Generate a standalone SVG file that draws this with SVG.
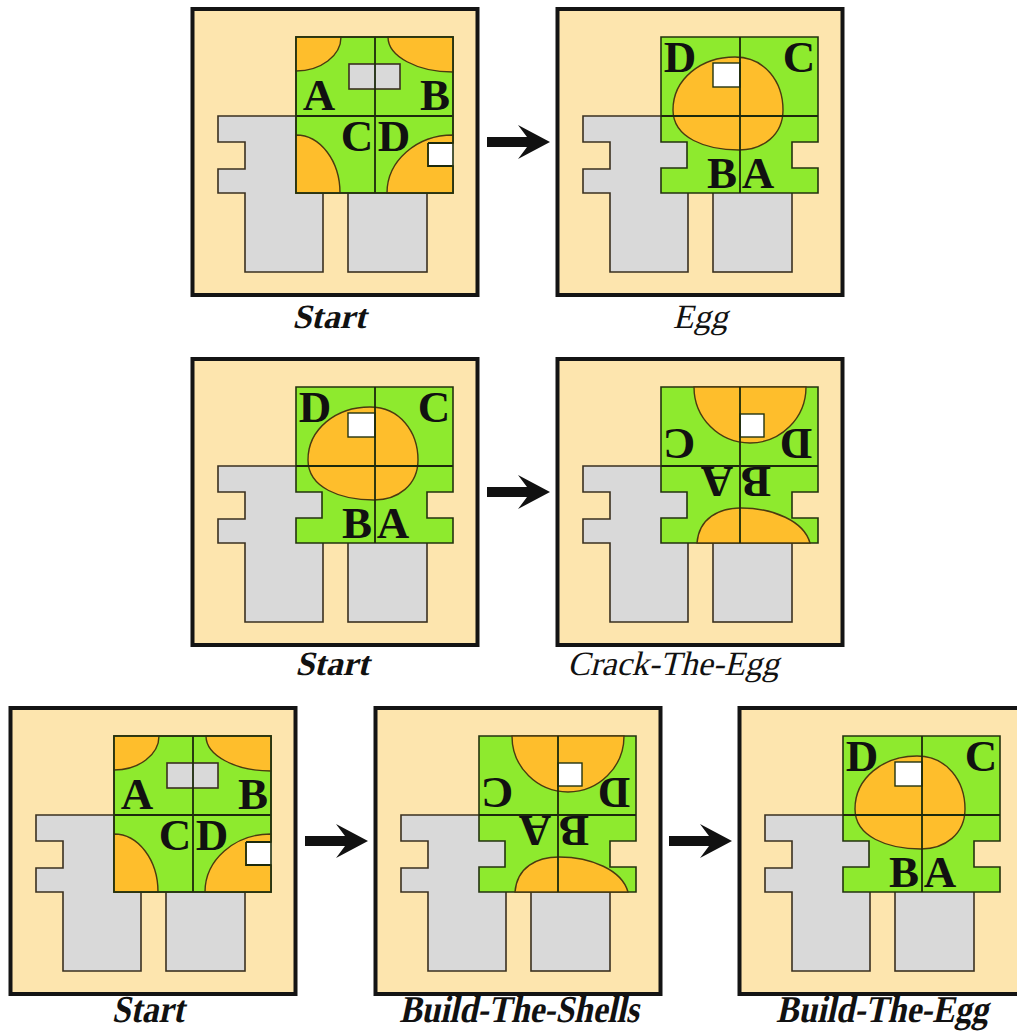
<svg xmlns="http://www.w3.org/2000/svg" xmlns:xlink="http://www.w3.org/1999/xlink" width="1017" height="1032" viewBox="0 0 1017 1032">
  <style>
    .frame { fill: #FDE5AE; stroke: #141414; stroke-width: 4; }
    .gray { fill: #D9D9D9; stroke: #3a3020; stroke-width: 1.6; stroke-linejoin: miter; }
    .green { fill: #8EEA2E; stroke: #23330f; stroke-width: 1.6; }
    .orange { fill: #FEBE2C; stroke: #4a3a10; stroke-width: 1.4; }
    .hole { fill: #FFFFFF; stroke: #23330f; stroke-width: 1.4; }
    .div { fill: none; stroke: #1c2a0c; stroke-width: 1.8; }
    .tile { font-family: "Liberation Serif", "Times New Roman", serif; font-weight: bold; font-size: 45px; fill: #111; text-anchor: middle; }
    .cap { font-family: "Liberation Serif", "Times New Roman", serif; font-size: 34px; fill: #111; text-anchor: middle; }
    .capb { font-weight: bold; }
    .cap3 { font-size: 38px; }
    .arrow { fill: #111; }
  </style>
  <defs>
    <!-- board: framed tray with the two grey blocks; origin = top-left of the 157x156 tile square -->
    <g id="board">
      <rect class="frame" x="-103.5" y="-28" width="285" height="286"/>
      <path class="gray" d="M-78,79 V105 H-51 V132 H-78 V156 H-51 V235 H27 V79 Z"/>
      <rect class="gray" x="52" y="140" width="79" height="95"/>
    </g>

    <!-- four tiles, start arrangement: quarter shells in the corners -->
    <g id="tiles-start">
      <path class="green" d="M0,0 H157 V106 H132 V129 H157 V156 H0 Z"/>
      <path class="orange" d="M0,0 H45 A45,34 0 0 1 0,34 Z"/>
      <path class="orange" d="M157,0 H92 A65,35 0 0 0 157,35 Z"/>
      <path class="orange" d="M0,156 V98 A44,58 0 0 1 44,156 Z"/>
      <path class="orange" d="M157,156 H91 A66,58 0 0 1 157,98 Z"/>
      <rect x="132.8" y="106.8" width="25" height="21.4" fill="#FFFFFF"/>
      <path class="div" d="M132,106 H157 M132,106 V129 H157"/>
      <rect class="gray" x="53" y="27" width="51" height="25"/>
      <path class="div" d="M79,0 V156 M0,79 H157"/>
      <rect x="0" y="0" width="157" height="156" fill="none" stroke="#23330f" stroke-width="1.6"/>
    </g>

    <!-- four tiles, whole egg in the middle -->
    <g id="tiles-egg">
      <path class="green" d="M0,0 H157 V105 H131 V131 H157 V156 H0 V131 H26 V105 H0 Z"/>
      <path class="orange" d="M12,73 C12,42 40,20 74,20 C104,20 122,45 122,73 C122,98 102,113 78,113 C45,113 12,101 12,73 Z"/>
      <rect class="hole" x="52" y="26" width="27" height="24"/>
      <path class="div" d="M79,0 V156 M0,79 H157"/>
    </g>

    <!-- four tiles turned over: two half shells -->
    <g id="tiles-shells">
      <path class="green" d="M0,0 H157 V105 H131 V131 H157 V156 H0 V131 H26 V105 H0 Z"/>
      <path class="orange" d="M33,0 A56,56 0 0 0 145,0 Z"/>
      <path class="orange" d="M36,156 C38,131 58,121 80,121 C112,121 143,134 149,156 Z"/>
      <rect class="hole" x="79" y="27" width="24" height="23"/>
      <path class="div" d="M79,0 V156 M0,79 H157"/>
    </g>
  </defs>

  <!-- row 1 -->
  <g id="node-start-1" transform="translate(296,37)">
    <use xlink:href="#board"/>
    <use xlink:href="#tiles-start"/>
    <text class="tile" x="23" y="73">A</text>
    <text class="tile" x="139" y="73">B</text>
    <text class="tile" x="61" y="114">C</text>
    <text class="tile" x="98" y="114">D</text>
    <text class="cap capb" transform="translate(33,291) skewX(-14)">Start</text>
  </g>

  <g id="node-egg-1" transform="translate(661,37)">
    <use xlink:href="#board"/>
    <use xlink:href="#tiles-egg"/>
    <text class="tile" x="19" y="35">D</text>
    <text class="tile" x="138" y="35">C</text>
    <text class="tile" x="61" y="151">B</text>
    <text class="tile" x="97" y="151">A</text>
    <text class="cap" transform="translate(39,291) skewX(-14)">Egg</text>
  </g>

  <!-- row 2 -->
  <g id="node-start-2" transform="translate(296,387)">
    <use xlink:href="#board"/>
    <use xlink:href="#tiles-egg"/>
    <text class="tile" x="19" y="35">D</text>
    <text class="tile" x="138" y="35">C</text>
    <text class="tile" x="61" y="151">B</text>
    <text class="tile" x="97" y="151">A</text>
    <text class="cap capb" transform="translate(36,288) skewX(-14)">Start</text>
  </g>

  <g id="node-crack-the-egg" transform="translate(661,387)">
    <use xlink:href="#board"/>
    <use xlink:href="#tiles-shells"/>
    <text class="tile" transform="translate(18,57) rotate(180)" y="15">C</text>
    <text class="tile" transform="translate(135,57) rotate(180)" y="15">D</text>
    <text class="tile" transform="translate(56,95) rotate(180)" y="15">A</text>
    <text class="tile" transform="translate(95,95) rotate(180)" y="15">B</text>
    <text class="cap" transform="translate(12,288) skewX(-14)">Crack-The-Egg</text>
  </g>

  <!-- row 3 -->
  <g id="node-start-3" transform="translate(114,736)">
    <use xlink:href="#board"/>
    <use xlink:href="#tiles-start"/>
    <text class="tile" x="23" y="73">A</text>
    <text class="tile" x="139" y="73">B</text>
    <text class="tile" x="61" y="114">C</text>
    <text class="tile" x="98" y="114">D</text>
    <text class="cap capb cap3" transform="translate(34,286) skewX(-12) scale(0.88,1)">Start</text>
  </g>

  <g id="node-build-the-shells" transform="translate(479,736)">
    <use xlink:href="#board"/>
    <use xlink:href="#tiles-shells"/>
    <text class="tile" transform="translate(18,57) rotate(180)" y="15">C</text>
    <text class="tile" transform="translate(135,57) rotate(180)" y="15">D</text>
    <text class="tile" transform="translate(56,95) rotate(180)" y="15">A</text>
    <text class="tile" transform="translate(95,95) rotate(180)" y="15">B</text>
    <text class="cap capb cap3" transform="translate(40,286) skewX(-12) scale(0.88,1)">Build-The-Shells</text>
  </g>

  <g id="node-build-the-egg" transform="translate(843,736)">
    <use xlink:href="#board"/>
    <use xlink:href="#tiles-egg"/>
    <text class="tile" x="19" y="35">D</text>
    <text class="tile" x="138" y="35">C</text>
    <text class="tile" x="61" y="151">B</text>
    <text class="tile" x="97" y="151">A</text>
    <text class="cap capb cap3" transform="translate(39,286) skewX(-12) scale(0.88,1)">Build-The-Egg</text>
  </g>

  <!-- transition arrows -->
  <g id="connectors">
    <path class="arrow" transform="translate(487,142)" d="M0,-5 H40 L31,-17 L63,0 L31,17 L40,5 H0 Z"/>
    <path class="arrow" transform="translate(487,492)" d="M0,-5 H40 L31,-17 L63,0 L31,17 L40,5 H0 Z"/>
    <path class="arrow" transform="translate(305,841)" d="M0,-5 H40 L31,-17 L63,0 L31,17 L40,5 H0 Z"/>
    <path class="arrow" transform="translate(669,841)" d="M0,-5 H40 L31,-17 L63,0 L31,17 L40,5 H0 Z"/>
  </g>
</svg>
